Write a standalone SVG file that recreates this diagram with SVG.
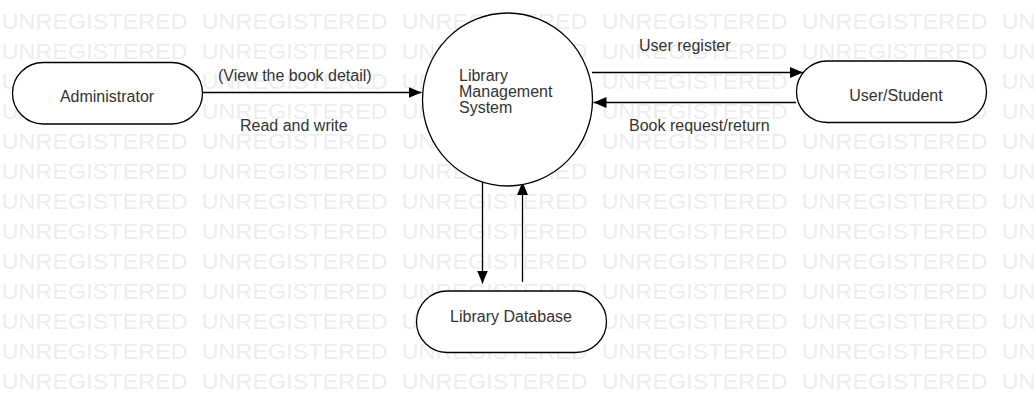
<svg xmlns="http://www.w3.org/2000/svg" width="1036" height="402" viewBox="0 0 1036 402">
  <style>
    .wm { font-family: "Liberation Sans", Arial, sans-serif; font-size: 22px; fill: #ededed; }
    .node { fill: #ffffff; stroke: #000000; stroke-width: 1.3; }
    .lbl { font-family: "Liberation Sans", Arial, sans-serif; font-size: 16px; fill: #333333; }
    .mid { text-anchor: middle; }
    .edge { fill: none; stroke: #000000; stroke-width: 1.3; marker-end: url(#arrow); }
  </style>
  <defs>
    <marker id="arrow" markerUnits="userSpaceOnUse" markerWidth="14" markerHeight="12" refX="13" refY="5.5" orient="auto">
      <path d="M0,0 L13,5.5 L0,11 z" fill="#000000"/>
    </marker>
    <pattern id="watermark" patternUnits="userSpaceOnUse" x="0" y="0" width="200" height="30">
      <text class="wm" x="1.7" y="28.5" textLength="186" lengthAdjust="spacingAndGlyphs">UNREGISTERED</text>
    </pattern>
  </defs>
  <rect x="0" y="0" width="1036" height="402" fill="#ffffff"/>
  <rect x="0" y="0" width="1036" height="402" fill="url(#watermark)"/>

  <g id="connectors">
    <line class="edge" x1="203" y1="92.5" x2="421.5" y2="92.5"/>
    <line class="edge" x1="592" y1="72.5" x2="803" y2="72.5"/>
    <line class="edge" x1="796" y1="102.5" x2="593.5" y2="102.5"/>
    <line class="edge" x1="482.5" y1="182" x2="482.5" y2="283.5"/>
    <line class="edge" x1="522.5" y1="282" x2="522.5" y2="182"/>
    <text class="lbl" x="218" y="81">(View the book detail)</text>
    <text class="lbl" x="240" y="131">Read and write</text>
    <text class="lbl" x="639" y="51">User register</text>
    <text class="lbl" x="629" y="131">Book request/return</text>
  </g>

  <g id="administrator">
    <rect class="node" x="12.5" y="62.5" width="190" height="61.5" rx="30.75" ry="30.75"/>
    <text class="lbl mid" x="107" y="101.5">Administrator</text>
  </g>

  <g id="library-management-system">
    <ellipse class="node" cx="507.5" cy="99.5" rx="85" ry="86.5"/>
    <text class="lbl" x="459" y="81">Library</text>
    <text class="lbl" x="459" y="97.3">Management</text>
    <text class="lbl" x="459" y="113">System</text>
  </g>

  <g id="user-student">
    <rect class="node" x="796.5" y="61" width="190" height="61.5" rx="30.75" ry="30.75"/>
    <text class="lbl mid" x="896" y="101">User/Student</text>
  </g>

  <g id="library-database">
    <rect class="node" x="416.5" y="291" width="190" height="61.5" rx="30.75" ry="30.75"/>
    <text class="lbl mid" x="511" y="321.5">Library Database</text>
  </g>
</svg>
